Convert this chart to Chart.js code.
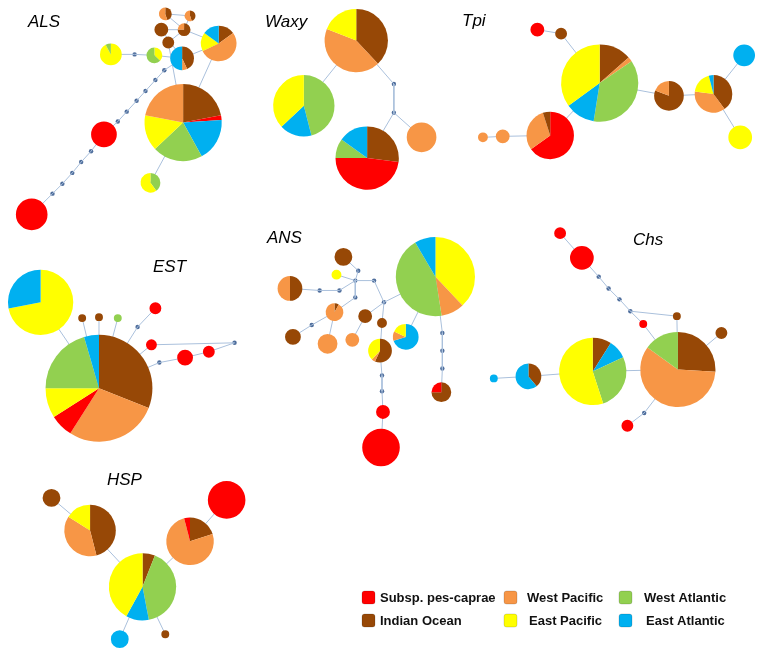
<!DOCTYPE html>
<html>
<head>
<meta charset="utf-8">
<script src="https://cdn.jsdelivr.net/npm/chart.js@4.4.1/dist/chart.umd.min.js"></script>
<style>
  html, body { margin: 0; padding: 0; background: #fff; }
  #wrap { width: 763px; height: 656px; position: relative; }
</style>
</head>
<body>
<div id="wrap"><canvas id="net"></canvas></div>
<script>
// regions, in legend order
const groupCodes = ["R", "B", "O", "Y", "G", "C"];
const groupNames = ["Subsp. pes-caprae", "Indian Ocean", "West Pacific", "East Pacific", "West Atlantic", "East Atlantic"];
const groupColors = ["#ff0000", "#974806", "#f79646", "#ffff00", "#92d050", "#00b0f0"];

// haplotypes: [id, x, y, radius, shares clockwise from 12 o'clock]
const alsHaps = [
  ["a1", 163, 10, 6.5, "B45 O55"],
  ["a2", 188, 12, 5.5, "B45 O55"],
  ["a3", 159, 26, 7, "B100"],
  ["a4", 182, 26, 6.5, "B75 O25"],
  ["a5", 166, 39, 6, "B100"],
  ["a6", 217, 40, 18, "B15 O53 Y17 C15"],
  ["a7", 180, 55, 12, "B43 O7 C50"],
  ["a8", 152, 52, 8, "Y37 G63"],
  ["a9", 108, 51, 11, "Y92 G8"],
  ["a10", 181, 120, 39, "B22 R2 C18 G21 Y15 O22"],
  ["a11", 148, 181, 10, "G40 Y60"],
  ["a12", 101, 132, 13, "R100"],
  ["a13", 28, 213, 16, "R100"]
];
const alsMedians = [
  ["am1", 132, 51], ["am2", 162, 67], ["am3", 153, 77], ["am4", 143, 88], ["am5", 134, 98],
  ["am6", 124, 109], ["am7", 115, 119], ["am8", 88, 149], ["am9", 78, 160], ["am10", 69, 171],
  ["am11", 59, 182], ["am12", 49, 192]
];
const alsLinks = [
  ["a9", "am1"], ["am1", "a8"], ["a8", "a7"], ["a7", "am2"], ["am2", "am3"], ["am3", "am4"],
  ["am4", "am5"], ["am5", "am6"], ["am6", "am7"], ["am7", "a12"], ["a12", "am8"], ["am8", "am9"],
  ["am9", "am10"], ["am10", "am11"], ["am11", "am12"], ["am12", "a13"], ["a1", "a2"], ["a1", "a4"],
  ["a2", "a4"], ["a3", "a4"], ["a3", "a7"], ["a5", "a4"], ["a5", "a10"], ["a4", "a6"], ["a7", "a6"],
  ["a6", "a10"], ["a10", "a11"]
];

const waxyHaps = [
  ["w1", 356, 37, 32, "B38 O43 Y19"],
  ["w2", 303, 103, 31, "G46 C17 Y37"],
  ["w3", 367, 156, 32, "B27 R48 G10 C15"],
  ["w4", 422, 135, 15, "O100"]
];
const waxyMedians = [["wm1", 394, 81], ["wm2", 394, 110]];
const waxyLinks = [["w1", "w2"], ["w1", "wm1"], ["wm1", "wm2"], ["wm2", "w3"], ["wm2", "w4"]];

const tpiHaps = [
  ["t1", 539, 26, 7, "R100"],
  ["t2", 563, 30, 6, "B100"],
  ["t3", 602, 80, 39, "B13.5 O2 G37 C12.5 Y35"],
  ["t4", 552, 133, 24, "R65 O30 B5"],
  ["t5", 504, 134, 7, "O100"],
  ["t6", 484, 135, 5, "O100"],
  ["t7", 672, 93, 15, "B81 O19"],
  ["t8", 717, 91, 19, "B40 O37 Y19 C4"],
  ["t9", 748, 52, 11, "C100"],
  ["t10", 744, 135, 12, "Y100"]
];
const tpiMedians = [];
const tpiLinks = [
  ["t1", "t2"], ["t2", "t3"], ["t3", "t4"], ["t4", "t5"], ["t5", "t6"], ["t3", "t7"],
  ["t7", "t8"], ["t8", "t9"], ["t8", "t10"]
];

const estHaps = [
  ["e1", 37, 302, 33, "Y72 C28"],
  ["e2", 79, 318, 4, "B100"],
  ["e3", 96, 317, 4, "B100"],
  ["e4", 115, 318, 4, "G100"],
  ["e5", 96, 389, 54, "B31 O28 R7 Y9 G20.5 C4.5"],
  ["e6", 153, 308, 6, "R100"],
  ["e7", 149, 345, 5.5, "R100"],
  ["e8", 183, 358, 8, "R100"],
  ["e9", 207, 352, 6, "R100"]
];
const estMedians = [["em1", 135, 327], ["em2", 233, 343], ["em3", 157, 363]];
const estLinks = [
  ["e5", "e1"], ["e5", "e2"], ["e5", "e3"], ["e5", "e4"], ["e5", "em1"], ["em1", "e6"],
  ["e5", "e7"], ["e7", "em2"], ["em2", "e9"], ["e9", "e8"], ["e8", "em3"], ["em3", "e5"]
];

const ansHaps = [
  ["n1", 436, 276, 40, "Y38 O9.5 G44 C8.5"],
  ["n2", 343, 256, 9, "B100"],
  ["n3", 336, 274, 5, "Y100"],
  ["n4", 289, 288, 12.5, "B50 O50"],
  ["n5", 334, 312, 9, "B8 O92"],
  ["n6", 365, 316, 7, "B100"],
  ["n7", 382, 323, 5, "B100"],
  ["n8", 292, 337, 8, "B100"],
  ["n9", 327, 344, 10, "O100"],
  ["n10", 352, 340, 7, "O100"],
  ["n11", 380, 351, 12, "B57 O5 Y38"],
  ["n12", 406, 337, 13, "C70 O12 Y18"],
  ["n13", 442, 393, 10, "B75 R25"],
  ["n14", 383, 413, 7, "R100"],
  ["n15", 381, 449, 19, "R100"]
];
const ansMedians = [
  ["nm1", 358, 270], ["nm2", 355, 280], ["nm3", 374, 280], ["nm4", 339, 290], ["nm5", 319, 290],
  ["nm6", 355, 297], ["nm7", 384, 302], ["nm8", 311, 325], ["nm9", 443, 333], ["nm10", 443, 351],
  ["nm11", 443, 369], ["nm12", 382, 376], ["nm13", 382, 392]
];
const ansLinks = [
  ["n2", "nm1"], ["nm1", "nm2"], ["n3", "nm2"], ["nm2", "nm3"], ["nm3", "nm7"], ["nm7", "n1"],
  ["nm2", "nm4"], ["nm4", "nm5"], ["nm5", "n4"], ["nm2", "nm6"], ["nm6", "n5"], ["n5", "nm8"],
  ["nm8", "n8"], ["n5", "n9"], ["nm7", "n6"], ["n6", "n10"], ["nm7", "n7"], ["n7", "n11"],
  ["n11", "nm12"], ["nm12", "nm13"], ["nm13", "n14"], ["n14", "n15"], ["n1", "n12"],
  ["n1", "nm9"], ["nm9", "nm10"], ["nm10", "nm11"], ["nm11", "n13"]
];

const chsHaps = [
  ["c1", 562, 232, 6, "R100"],
  ["c2", 584, 257, 12, "R100"],
  ["c3", 680, 316, 4, "B100"],
  ["c4", 646, 324, 4, "R100"],
  ["c5", 725, 333, 6, "B100"],
  ["c6", 681, 370, 38, "B26 O59 G15"],
  ["c7", 595, 372, 34, "B9 C9 G27 Y55"],
  ["c8", 530, 377, 13, "B39 C61"],
  ["c9", 495, 379, 4, "C100"],
  ["c10", 630, 427, 6, "R100"]
];
const chsMedians = [["cm1", 601, 276], ["cm2", 611, 288], ["cm3", 622, 299], ["cm4", 633, 311], ["cm5", 647, 414]];
const chsLinks = [
  ["c1", "c2"], ["c2", "cm1"], ["cm1", "cm2"], ["cm2", "cm3"], ["cm3", "cm4"], ["cm4", "c3"],
  ["cm4", "c4"], ["c4", "c6"], ["c3", "c6"], ["c6", "c5"], ["c6", "c7"], ["c7", "c8"],
  ["c8", "c9"], ["c6", "cm5"], ["cm5", "c10"]
];

const hspHaps = [
  ["h1", 48, 500, 9, "B100"],
  ["h2", 87, 533, 26, "B46 O38 Y16"],
  ["h3", 225, 502, 19, "R100"],
  ["h4", 188, 544, 24, "B20 O76 R4"],
  ["h5", 140, 590, 34, "B6 G41 C11 Y42"],
  ["h6", 117, 643, 9, "C100"],
  ["h7", 163, 638, 4, "B100"]
];
const hspMedians = [];
const hspLinks = [["h1", "h2"], ["h2", "h5"], ["h5", "h4"], ["h4", "h3"], ["h5", "h6"], ["h5", "h7"]];

const markerNames = ["ALS", "Waxy", "Tpi", "EST", "ANS", "Chs", "HSP"];

const allHaps = [].concat(alsHaps, waxyHaps, tpiHaps, estHaps, ansHaps, chsHaps, hspHaps);
const allMedians = [].concat(alsMedians, waxyMedians, tpiMedians, estMedians, ansMedians, chsMedians, hspMedians);
const allLinks = [].concat(alsLinks, waxyLinks, tpiLinks, estLinks, ansLinks, chsLinks, hspLinks);

const where = {};
allHaps.forEach(h => { where[h[0]] = { x: h[1], y: h[2] }; });
allMedians.forEach(m => { where[m[0]] = { x: m[1], y: m[2] }; });

function parseMix(s) {
  return s.split(" ").map(p => ({ g: p[0], v: parseFloat(p.slice(1)) }));
}

const datasets = [];
// links first so the pies cover their ends
allLinks.forEach(l => {
  datasets.push({
    data: [where[l[0]], where[l[1]]],
    showLine: true,
    borderColor: "#aac0dc",
    borderWidth: 1,
    pointRadius: 0
  });
});
datasets.push({
  label: "median",
  data: allMedians.map(m => ({ x: m[1], y: m[2] })),
  pointRadius: 2.2,
  pointBackgroundColor: "#4f6e9c",
  pointBorderWidth: 0
});
datasets.push({
  label: "haplotypes",
  data: allHaps.map(h => ({ x: h[1], y: h[2] })),
  pointRadius: 0
});

const piePlugin = {
  id: "pies",
  afterDatasetsDraw(chart) {
    const ctx = chart.ctx;
    const xs = chart.scales.x;
    const k = xs.getPixelForValue(1) - xs.getPixelForValue(0);
    const meta = chart.getDatasetMeta(chart.data.datasets.length - 1);
    ctx.save();
    allHaps.forEach((h, i) => {
      const pt = meta.data[i];
      const r = h[3] * k;
      const mix = parseMix(h[4]);
      const total = mix.reduce((s, m) => s + m.v, 0);
      let a = -Math.PI / 2;
      mix.forEach(m => {
        const da = m.v / total * Math.PI * 2;
        ctx.beginPath();
        ctx.moveTo(pt.x, pt.y);
        ctx.arc(pt.x, pt.y, r, a, a + da);
        ctx.closePath();
        ctx.fillStyle = groupColors[groupCodes.indexOf(m.g)];
        ctx.fill();
        a += da;
      });
    });
    ctx.restore();
  },
  afterDraw(chart) {
    const ctx = chart.ctx;
    ctx.save();
    // marker titles
    const titlePos = [[28, 27], [265, 27], [462, 26], [153, 272], [267, 243], [633, 245], [107, 485]];
    ctx.font = "italic 17px 'Liberation Sans', Arial, sans-serif";
    ctx.fillStyle = "#000";
    ctx.textBaseline = "alphabetic";
    markerNames.forEach((n, i) => ctx.fillText(n, titlePos[i][0], titlePos[i][1]));
    // legend, three columns of two
    const boxX = [362, 504, 619];
    const textX = [380, 527, 644];
    const rowY = [591, 614];
    ctx.font = "bold 13px 'Liberation Sans', Arial, sans-serif";
    groupNames.forEach((name, i) => {
      const col = Math.floor(i / 2), row = i % 2;
      const bx = boxX[col], by = rowY[row];
      ctx.beginPath();
      ctx.roundRect(bx, by, 13, 13, 2.5);
      ctx.fillStyle = groupColors[i];
      ctx.fill();
      ctx.strokeStyle = "rgba(0,0,0,0.25)";
      ctx.lineWidth = 0.6;
      ctx.stroke();
      ctx.fillStyle = "#111";
      ctx.fillText(name, textX[col] + (row === 1 && col > 0 ? 2 : 0), by + 11);
    });
    ctx.restore();
  }
};

new Chart(document.getElementById("net"), {
  type: "scatter",
  data: { datasets: datasets },
  options: {
    responsive: true,
    maintainAspectRatio: false,
    animation: false,
    events: [],
    layout: { padding: 0 },
    plugins: { legend: { display: false }, tooltip: { enabled: false } },
    scales: {
      x: { type: "linear", min: 0, max: 763, display: false },
      y: { type: "linear", min: 0, max: 656, reverse: true, display: false }
    }
  },
  plugins: [piePlugin]
});
</script>
</body>
</html>
